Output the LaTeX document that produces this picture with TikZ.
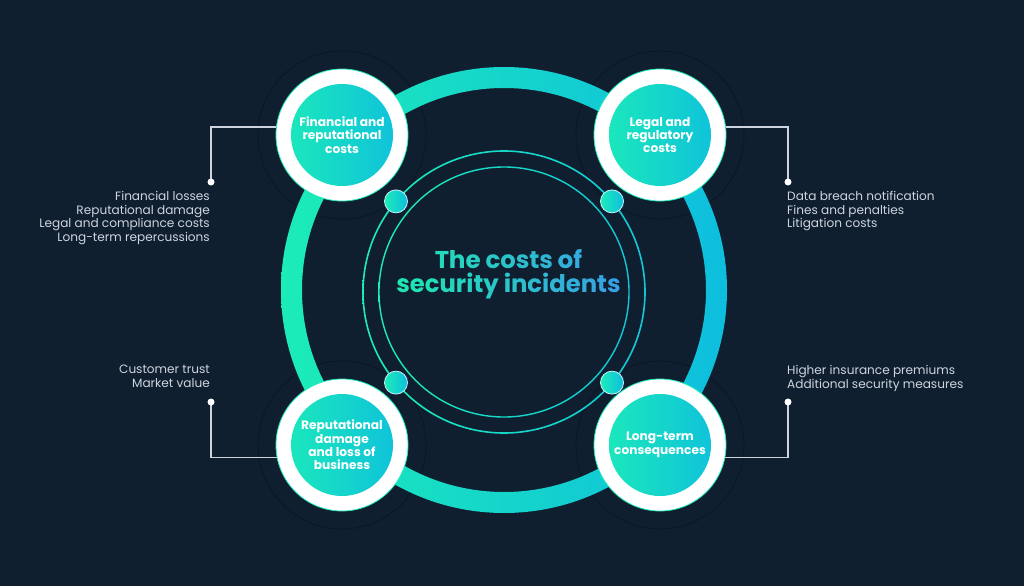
\documentclass[tikz,border=0pt]{standalone}
\usepackage{fontspec}
\setmainfont{Poppins}
\usetikzlibrary{positioning}
\definecolor{bgnavy}{RGB}{16,31,48}
\definecolor{mint}{RGB}{28,236,184}
\definecolor{cyanblue}{RGB}{14,190,222}
\definecolor{titlegreen}{RGB}{30,232,176}
\definecolor{titleblue}{RGB}{56,158,230}
\definecolor{listgray}{RGB}{205,212,222}
\definecolor{shadowring}{RGB}{10,22,34}
\tikzset{
  costnode/.style={circle, fill=white, draw=mint, line width=0.8pt, minimum size=132pt,
    inner sep=0pt, align=center, text=white, font=\bfseries\fontsize{12.2}{13.4}\selectfont,
    path picture={\shade[left color=mint, right color=cyanblue]
      (path picture bounding box.center) circle (51pt);}},
  orbitdot/.style={circle, minimum size=23pt, inner sep=0pt, left color=mint,
    right color=cyanblue, draw=white!80!cyan, line width=0.8pt},
  listtext/.style={inner sep=0pt, text=listgray, font=\fontsize{12.1}{13.7}\selectfont},
  titletext/.style={inner sep=0pt, anchor=base, font=\bfseries\fontsize{24.3}{24}\selectfont},
  linkline/.style={draw=listgray, line width=1.2pt},
}
\begin{document}
\begin{tikzpicture}[x=1pt, y=-1pt]
  \useasboundingbox[fill=bgnavy] (0,0) rectangle (1024,586);
  % centres
  \coordinate (ringc) at (504,290);
  \coordinate (innc) at (504,292);
  \coordinate (finc) at (342,135);
  \coordinate (legalc) at (660,135);
  \coordinate (repc) at (342,445);
  \coordinate (longc) at (660,445);
  % dark halos behind the cost circles
  \foreach \c in {finc,legalc,repc,longc}
    \draw[shadowring, line width=0.8pt] (\c) circle (84pt);
  % main ring and inner orbits
  \shade[left color=mint, right color=cyanblue, even odd rule] (ringc) circle (223pt) (ringc) circle (202pt);
  \shade[left color=mint, right color=cyanblue!80!mint, even odd rule] (innc) circle (141.8pt) (innc) circle (140.2pt);
  \shade[left color=mint, right color=cyanblue!80!mint, even odd rule] (innc) circle (125.7pt) (innc) circle (124.3pt);
  \foreach \a in {40,140,220,320}
    \node[orbitdot] at ([shift={(\a:141pt)}]innc) {};
  % title, coloured strip by strip
  \foreach \i in {0,...,23} {
    \pgfmathtruncatemacro\p{100*\i/23}
    \begin{scope}
      \clip (392+\i*9.75,238) rectangle ++(10,64);
      \node[titletext, text=titleblue!\p!titlegreen] (title1) at (508.5,268.3) {The costs of};
      \node[titletext, text=titleblue!\p!titlegreen] (title2) at (508.5,292.3) {security incidents};
    \end{scope}
  }
  % cost circles
  \node[costnode] (fincost) at (finc) {Financial and\\reputational\\costs};
  \node[costnode] (legalcost) at (legalc) {Legal and\\regulatory\\costs};
  \node[costnode] (repbiz) at (repc) {Reputational\\damage\\and loss of\\business};
  \node[costnode] (longterm) at (longc) {Long-term\\consequences};
  % connectors
  \coordinate (finend) at (211,182);
  \coordinate (legalend) at (788,182);
  \coordinate (repend) at (211,402);
  \coordinate (longend) at (788,402);
  \draw[linkline] (fincost.173) -- (fincost.173 -| finend) -- (finend);
  \draw[linkline] (legalcost.7) -- (legalcost.7 -| legalend) -- (legalend);
  \draw[linkline] (repbiz.191) -- (repbiz.191 -| repend) -- (repend);
  \draw[linkline] (longterm.-11) -- (longterm.-11 -| longend) -- (longend);
  \foreach \e in {finend,legalend,repend,longend}
    \fill[white] (\e) circle (3.5pt);
  % lists
  \node[listtext, align=right, anchor=north east] (finlist) at (210,191)
    {Financial losses\\Reputational damage\\Legal and compliance costs\\Long-term repercussions};
  \node[listtext, align=left, anchor=north west] (legallist) at (787,191)
    {Data breach notification\\Fines and penalties\\Litigation costs};
  \node[listtext, align=right, anchor=north east] (replist) at (210,365)
    {Customer trust\\Market value};
  \node[listtext, align=left, anchor=north west] (longlist) at (787,365)
    {Higher insurance premiums\\Additional security measures};
\end{tikzpicture}
\end{document}
